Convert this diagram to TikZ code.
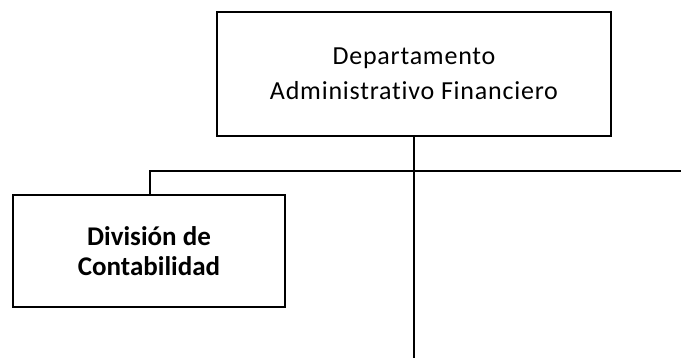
\documentclass[tikz,border=0pt]{standalone}
\usepackage{fontspec}
\setmainfont[Ligatures=NoCommon]{Carlito}
\newfontfamily\spacedfont[Ligatures=NoCommon,LetterSpace=3]{Carlito}
\begin{document}
\begin{tikzpicture}[x=1pt,y=-1pt,
  orgbox/.style={draw=black,line width=2.6pt,fill=white,align=center,inner sep=0pt},
  conn/.style={draw=black,line width=2.6pt}]
\useasboundingbox (0,0) rectangle (681,358);
\node[orgbox,minimum width=394pt,minimum height=124pt,font=\spacedfont\fontsize{26}{34.5}\selectfont] (dept) at (414,74) {Departamento\\Administrativo Financiero};
\node[orgbox,minimum width=272pt,minimum height=112pt,font=\fontsize{27}{30}\selectfont\bfseries] (cont) at (149,251) {División de\\Contabilidad};
\coordinate (r) at (681,171);
\coordinate (l) at (cont.north -| 150,0);
\coordinate (b) at (dept.south |- 0,358);
\draw[conn] (dept.south) -- (b);
\draw[conn] (r) -- (150,171) -- (l);
\end{tikzpicture}
\end{document}
